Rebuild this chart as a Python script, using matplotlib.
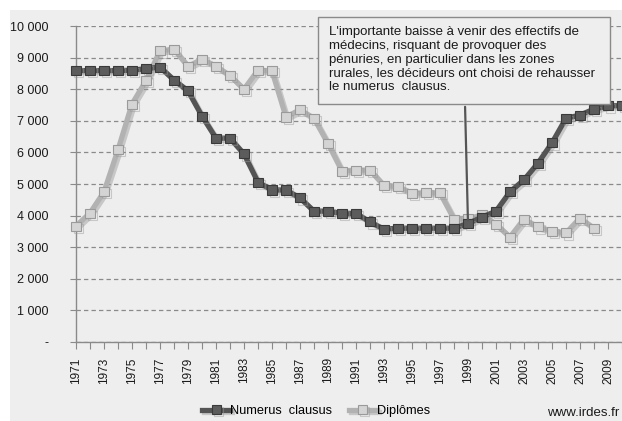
import matplotlib
matplotlib.use("Agg")
import matplotlib.pyplot as plt
from matplotlib.patches import Rectangle
import matplotlib.patheffects as pe

plt.rcParams['font.family'] = ['Liberation Sans', 'DejaVu Sans']

years = list(range(1971, 2011))
numerus_clausus = [8588, 8588, 8588, 8588, 8600, 8650, 8700, 8290, 7950, 7150,
                   6450, 6450, 5950, 5060, 4810, 4810, 4560, 4140, 4140, 4070,
                   4070, 3800, 3570, 3600, 3600, 3600, 3600, 3600, 3750, 3950,
                   4140, 4750, 5130, 5660, 6300, 7080, 7180, 7370, 7470, 7480]
dipl_years = list(range(1971, 2009))
diplomes = [3670, 4080, 4750, 6080, 7530, 8270, 9210, 9270, 8720, 8950,
            8730, 8430, 8000, 8600, 8580, 7120, 7350, 7080, 6280, 5410,
            5440, 5440, 4950, 4920, 4710, 4720, 4720, 3890, 3900, 4020,
            3730, 3320, 3890, 3640, 3510, 3450, 3920, 3600]
yticks = list(range(0, 10001, 1000))
ytick_labels = ['-', '1 000', '2 000', '3 000', '4 000', '5 000', '6 000',
                '7 000', '8 000', '9 000', '10 000']
annotation = ("L'importante baisse à venir des effectifs de\n"
              "médecins, risquant de provoquer des\n"
              "pénuries, en particulier dans les zones\n"
              "rurales, les décideurs ont choisi de rehausser\n"
              "le numerus  clausus.")

W, H = 622, 421
fig = plt.figure(figsize=(W / 100, H / 100), dpi=100, facecolor='white')
bg = '#EEEEEE'
fig.patches.append(Rectangle((10 / W, 0), 1, (H - 10) / H, transform=fig.transFigure,
                             facecolor=bg, edgecolor='none', zorder=-5))

ax = fig.add_axes([76 / W, (H - 342) / H, (629 - 76) / W, 316 / H])
ax.set_zorder(1)
ax.patch.set_visible(False)
ax.set_xlim(1971, 2010.5)
ax.set_ylim(0, 10000)
for s in ['top', 'right']:
    ax.spines[s].set_visible(False)
for s in ['left', 'bottom']:
    ax.spines[s].set_color('#8a8a8a')
    ax.spines[s].set_linewidth(1.0)

ax.set_yticks(yticks)
ax.set_yticklabels(ytick_labels, fontsize=9, color='#1a1a1a')
ax.tick_params(axis='y', length=4, color='#8a8a8a', pad=16)
ax.set_xticks(years)
ax.set_xticklabels([str(y) if (y - 1971) % 2 == 0 else '' for y in years],
                   rotation=90, fontsize=8.5, color='#1a1a1a')
ax.tick_params(axis='x', length=5, color='#8a8a8a', pad=6)
ax.grid(axis='y', color='#8a8a8a', linestyle=(0, (3.5, 2.5)), linewidth=0.9)
ax.set_axisbelow(True)

shadow = [pe.SimpleLineShadow(offset=(1.5, -1.5), shadow_color='#999999', alpha=0.45),
          pe.Normal()]
l1, = ax.plot(years, numerus_clausus, color='#545454', lw=3.8, marker='s', ms=6.5,
              mfc='#5c5c5c', mec='#3a3a3a', mew=0.8, clip_on=False, zorder=4,
              path_effects=shadow, label='Numerus clausus')
l2, = ax.plot(dipl_years, diplomes, color='#b2b2b2', lw=3.8, marker='s', ms=6.5,
              mfc='#d4d4d4', mec='#9a9a9a', mew=0.8, clip_on=False, zorder=3,
              path_effects=shadow, label='Diplômes')

ax.annotate('', xy=(1999, 3760), xycoords='data',
            xytext=(465 / W, 1 - 104 / H), textcoords='figure fraction',
            arrowprops=dict(arrowstyle='-', color='#555555', lw=1.6),
            zorder=6)

# annotation box
bx0, bx1, by0, by1 = 318, 610, 17, 104
fig.patches.append(Rectangle((bx0 / W, 1 - by1 / H), (bx1 - bx0) / W, (by1 - by0) / H,
                             transform=fig.transFigure, facecolor=bg,
                             edgecolor='#8a8a8a', linewidth=1.0, zorder=5))
fig.text(329 / W, 1 - 26 / H, annotation, fontsize=9.5, color='#1a1a1a',
         va='top', ha='left', linespacing=1.2, zorder=6)

leg = fig.legend(handles=[l1, l2], labels=['Numerus  clausus', 'Diplômes'],
                 loc='center', bbox_to_anchor=(316 / W, 1 - 411 / H), ncol=2,
                 frameon=False, fontsize=9.2, handlelength=2.2, handletextpad=0.0,
                 columnspacing=1.3, borderaxespad=0)
fig.text(619 / W, 1 - 413 / H, 'www.irdes.fr', fontsize=9.5, ha='right',
         va='center', color='#1a1a1a')

fig.savefig('out.png', dpi=100, facecolor='white')
